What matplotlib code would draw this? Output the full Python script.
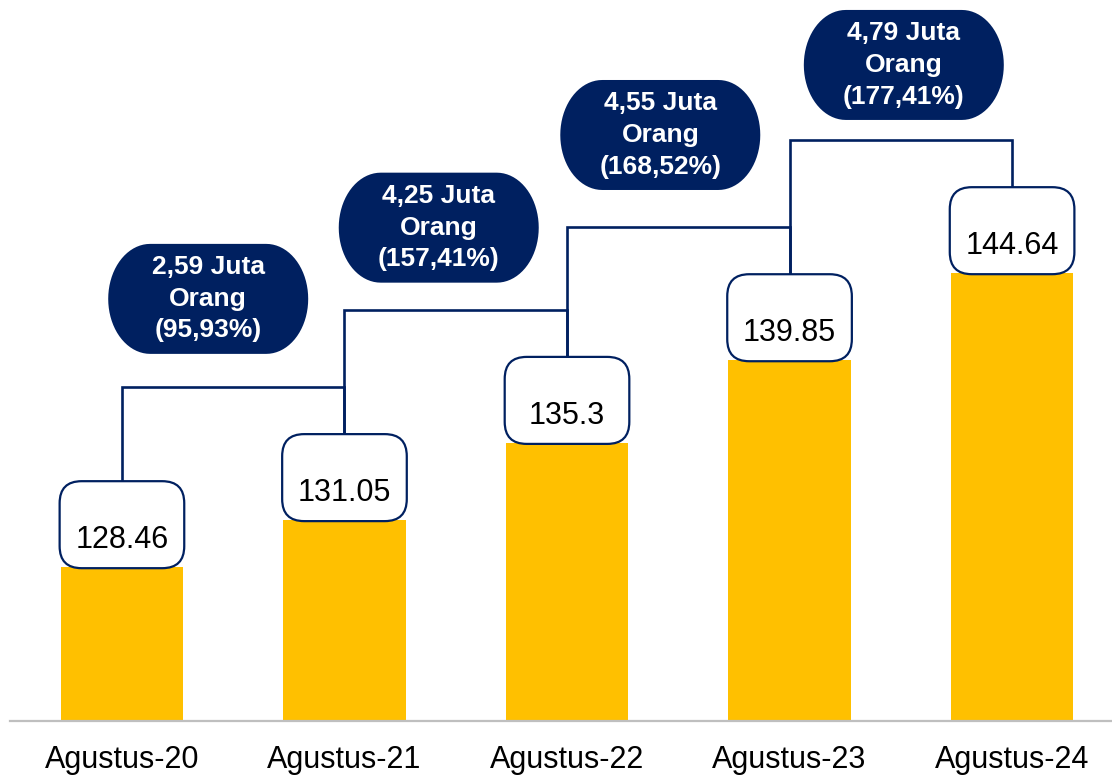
"""Jumlah penduduk bekerja, Agustus 2020-2024, dengan kenaikan tahunan"""

import matplotlib
matplotlib.use('Agg')
import numpy as np
import matplotlib.pyplot as plt
from matplotlib.patches import FancyBboxPatch, PathPatch
from matplotlib.path import Path
from matplotlib.transforms import ScaledTranslation

periods = ['Agustus-20', 'Agustus-21', 'Agustus-22', 'Agustus-23', 'Agustus-24']
workers = [128.46, 131.05, 135.3, 139.85, 144.64]
value_labels = ['128.46', '131.05', '135.3', '139.85', '144.64']
growth_labels = ['2,59 Juta\nOrang\n(95,93%)',
                 '4,25 Juta\nOrang\n(157,41%)',
                 '4,55 Juta\nOrang\n(168,52%)',
                 '4,79 Juta\nOrang\n(177,41%)']

NAVY = '#002060'
GOLD = '#FFC000'
plt.rcParams['font.family'] = ['Liberation Sans', 'DejaVu Sans']


def pill(w, h, rx, ry):
    """ rounded rect with elliptical corners, in pixels around (0, 0)
    """
    pts = []
    corners = [(w / 2 - rx, h / 2 - ry, 0), (-w / 2 + rx, h / 2 - ry, 90),
               (-w / 2 + rx, -h / 2 + ry, 180), (w / 2 - rx, -h / 2 + ry, 270)]
    for cx, cy, a0 in corners:
        t = np.radians(np.linspace(a0, a0 + 90, 20))
        pts += list(zip(cx + rx * np.cos(t), cy + ry * np.sin(t)))
    pts.append(pts[0])
    return Path(pts, closed=True)


W, H = 1112, 776
fig = plt.figure(figsize=(W / 100, H / 100), dpi=100)
ax = fig.add_axes([10 / W, 1 - 721 / H, 1 - 10 / W, 721 / H])

x = list(range(len(periods)))
ax.bar(x, workers, width=0.55, color=GOLD, zorder=2)

ax.set_xlim(-0.503, 4.449)
ax.set_ylim(120, 159.68)
ax.set_xticks(x)
ax.set_xticklabels(periods, fontsize=22)
ax.tick_params(axis='x', length=0, pad=17)
ax.set_yticks([])
for s in ['left', 'right', 'top']:
    ax.spines[s].set_visible(False)
ax.spines['bottom'].set_color('#BFBFBF')
ax.spines['bottom'].set_linewidth(1.6)

# pixels per data unit
xpx = ax.get_position().width * W / (4.449 + 0.503)
ypx = ax.get_position().height * H / (159.68 - 120)
aspect = xpx / ypx

box_w = 0.56
box_h = 87 / ypx
box_tops = []
for i, v in enumerate(workers):
    bottom = v - 0.05
    patch = FancyBboxPatch((i - box_w / 2, bottom), box_w, box_h,
                           boxstyle='round,pad=0,rounding_size=%f' % (22 / xpx),
                           mutation_aspect=aspect, facecolor='white',
                           edgecolor=NAVY, linewidth=1.6, zorder=4)
    ax.add_patch(patch)
    box_tops.append(bottom + box_h)
    ax.text(i, v + 1.5, value_labels[i], ha='center', va='center',
            fontsize=22, color='black', zorder=5)

# bubble offsets in pixels (x from midpoint, y above the connector)
bub_dx = [-25, -17, -18, 3]
bub_dy = [88, 82, 92, 75]
bubble = pill(200, 110, 42, 55)
for i, lab in enumerate(growth_labels):
    level = box_tops[i + 1] + 2.6
    # elbow connector between consecutive boxes
    ax.plot([i, i, i + 1, i + 1], [box_tops[i], level, level, box_tops[i + 1]],
            color=NAVY, linewidth=1.9, zorder=3, solid_joinstyle='miter')
    cx = i + 0.5 + bub_dx[i] / xpx
    cy = level + bub_dy[i] / ypx
    ax.add_patch(PathPatch(bubble, facecolor=NAVY, edgecolor='none', zorder=4,
                           transform=ScaledTranslation(cx, cy, ax.transData)))
    ax.text(cx, cy, lab, ha='center', va='center', fontsize=19,
            fontweight='bold', color='white', linespacing=1.4, zorder=5)

fig.savefig('out.png', dpi=100)
